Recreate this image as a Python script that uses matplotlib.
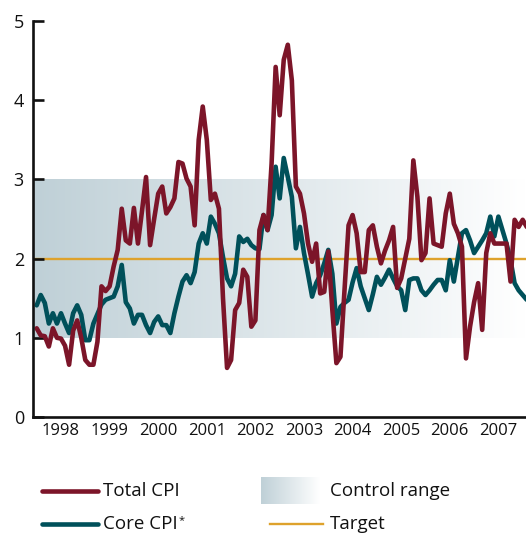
import matplotlib
matplotlib.use("Agg")
import matplotlib.pyplot as plt
import numpy as np
from matplotlib.colors import LinearSegmentedColormap
from matplotlib.lines import Line2D

# ---------------- data (monthly, from Jan 1998) ----------------
start_year = 1998
total_cpi = [
    1.12, 1.03, 1.02, 0.89, 1.12, 1.00, 0.99, 0.90, 0.66, 1.09, 1.22, 1.00,
    0.72, 0.66, 0.66, 0.95, 1.65, 1.59, 1.65, 1.90, 2.11, 2.63, 2.23, 2.19,
    2.64, 2.19, 2.60, 3.03, 2.17, 2.50, 2.82, 2.91, 2.57, 2.65, 2.76, 3.22,
    3.20, 3.01, 2.91, 2.42, 3.50, 3.92, 3.50, 2.74, 2.82, 2.63, 1.50, 0.62,
    0.72, 1.35, 1.44, 1.86, 1.77, 1.14, 1.22, 2.36, 2.55, 2.36, 3.20, 4.42,
    3.81, 4.51, 4.70, 4.25, 2.91, 2.82, 2.57, 2.19, 1.96, 2.19, 1.56, 1.58,
    2.09, 1.35, 0.68, 0.76, 1.60, 2.42, 2.55, 2.32, 1.83, 1.83, 2.36, 2.42,
    2.15, 1.94, 2.10, 2.23, 2.40, 1.63, 1.75, 2.00, 2.25, 3.24, 2.78, 1.98,
    2.07, 2.76, 2.19, 2.17, 2.15, 2.57, 2.82, 2.44, 2.32, 2.15, 0.74, 1.14,
    1.45, 1.69, 1.10, 2.07, 2.32, 2.19, 2.19, 2.19, 2.19, 1.71, 2.49, 2.40,
    2.49, 2.40,
]
core_cpi = [
    1.41, 1.54, 1.44, 1.18, 1.31, 1.18, 1.31, 1.18, 1.06, 1.31, 1.41, 1.29,
    0.97, 0.97, 1.18, 1.30, 1.42, 1.48, 1.50, 1.52, 1.65, 1.92, 1.45, 1.37,
    1.18, 1.29, 1.29, 1.16, 1.06, 1.20, 1.27, 1.16, 1.16, 1.06, 1.31, 1.52,
    1.71, 1.79, 1.69, 1.83, 2.19, 2.32, 2.19, 2.53, 2.44, 2.32, 2.02, 1.75,
    1.65, 1.81, 2.28, 2.21, 2.25, 2.17, 2.13, 2.12, 2.55, 2.36, 2.55, 3.16,
    2.76, 3.27, 3.03, 2.78, 2.13, 2.40, 2.07, 1.80, 1.52, 1.69, 1.79, 1.94,
    2.11, 1.81, 1.18, 1.39, 1.44, 1.48, 1.70, 1.88, 1.65, 1.50, 1.35, 1.55,
    1.77, 1.67, 1.76, 1.86, 1.75, 1.65, 1.60, 1.35, 1.73, 1.75, 1.75, 1.60,
    1.54, 1.60, 1.67, 1.73, 1.73, 1.60, 1.98, 1.71, 2.02, 2.32, 2.36, 2.23,
    2.07, 2.15, 2.23, 2.32, 2.53, 2.28, 2.53, 2.36, 2.19, 1.98, 1.69, 1.60,
    1.54, 1.48,
]
year_labels = ["1998", "1999", "2000", "2001", "2002",
               "2003", "2004", "2005", "2006", "2007"]
target = 2.0
control_low, control_high = 1.0, 3.0

# ---------------- style ----------------
RED = "#7c1529"
TEAL = "#00505a"
GOLD = "#dea22c"
BAND_LEFT = "#bfd0d7"
TXT = "#111111"
FONT = ["Open Sans", "DejaVu Sans"]
plt.rcParams["font.family"] = FONT

W, H = 526, 535
fig = plt.figure(figsize=(W / 100, H / 100), dpi=100)
ax = fig.add_axes([33 / W, 118 / H, 493 / W, 396 / H])

xmin, xmax = 1997.924, 2008.068
band_cmap = LinearSegmentedColormap.from_list("band", [BAND_LEFT, "#ffffff"])
grad = np.linspace(0, 1, 256).reshape(1, -1)
ax.imshow(grad, cmap=band_cmap, extent=[xmin, xmax, control_low, control_high],
          aspect="auto", zorder=0, interpolation="bilinear")
ax.axhline(target, color=GOLD, lw=1.7, zorder=1)

LW = 3.3
x = start_year + np.arange(len(total_cpi)) / 12.0
xc = start_year + np.arange(len(core_cpi)) / 12.0
ax.plot(xc, core_cpi, color=TEAL, lw=LW, solid_joinstyle="round",
        solid_capstyle="round", zorder=2)
ax.plot(x, total_cpi, color=RED, lw=LW, solid_joinstyle="round",
        solid_capstyle="round", zorder=3)

ax.set_xlim(xmin, xmax)
ax.set_ylim(0, 5)
for s in ("top", "right"):
    ax.spines[s].set_visible(False)
for s in ("left", "bottom"):
    ax.spines[s].set_linewidth(1.9)
    ax.spines[s].set_color(TXT)
    ax.spines[s].set_zorder(5)

ax.set_yticks(range(6))
ax.tick_params(axis="y", direction="in", length=8, width=1.9, pad=6.5,
               labelsize=13, colors=TXT)
ax.set_xticks([int(y) + 0.5 for y in year_labels], labels=year_labels)
ax.tick_params(axis="x", length=0, pad=4, labelsize=12, colors=TXT)

# ---------------- legend ----------------
row1 = (H - 491) / H
row2 = (H - 524) / H
fs = 13.5
fig.add_artist(Line2D([42 / W, 98 / W], [row1, row1], color=RED, lw=LW,
                      solid_capstyle="round"))
fig.text(103 / W, row1, "Total CPI", fontsize=fs, va="center", ha="left", color=TXT)
fig.add_artist(Line2D([42 / W, 98 / W], [row2, row2], color=TEAL, lw=LW,
                      solid_capstyle="round"))
t = fig.text(103 / W, row2, "Core CPI", fontsize=fs, va="center", ha="left", color=TXT)
fig.canvas.draw()
bb = t.get_window_extent(renderer=fig.canvas.get_renderer())
fig.text(bb.x1 / W + 0.5 / W, row2 + 3 / H, "*", fontsize=8, va="center",
         ha="left", color=TXT)

lax = fig.add_axes([261 / W, (H - 504) / H, 59 / W, 27 / H])
lax.imshow(grad, cmap=band_cmap, aspect="auto", interpolation="bilinear")
lax.set_axis_off()
fig.text(330 / W, row1, "Control range", fontsize=fs, va="center", ha="left", color=TXT)
fig.add_artist(Line2D([270 / W, 323 / W], [row2, row2], color=GOLD, lw=1.7))
fig.text(330 / W, row2, "Target", fontsize=fs, va="center", ha="left", color=TXT)

fig.savefig("out.png", dpi=100)
